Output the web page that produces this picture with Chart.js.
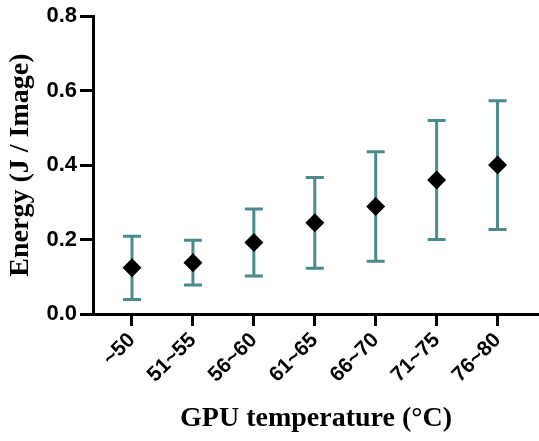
<!DOCTYPE html>
<html>
<head>
<meta charset="utf-8">
<script src="https://cdn.jsdelivr.net/npm/chart.js@4"></script>
<style>
  body { margin: 0; background: #fff; }
</style>
</head>
<body>
<canvas id="energyChart" width="539" height="441"></canvas>
<script>
// temperature bins
const tempLabels = ['~50', '51~55', '56~60', '61~65', '66~70', '71~75', '76~80'];
// mean energy per image (J)
const energyMean = [0.124, 0.138, 0.192, 0.245, 0.289, 0.360, 0.400];
// error bar (+/-)
const energyErr = [0.085, 0.060, 0.090, 0.122, 0.147, 0.160, 0.173];
const yTicks = [0, 0.2, 0.4, 0.6, 0.8];

const teal = '#4a8a8a';

// draws the error bars under the points
const errorBars = {
  id: 'errorBars',
  beforeDatasetsDraw(chart) {
    const ctx = chart.ctx;
    const xs = chart.scales.x, ys = chart.scales.y;
    ctx.save();
    ctx.strokeStyle = teal;
    ctx.lineWidth = 3;
    energyMean.forEach((m, i) => {
      const x = xs.getPixelForValue(i);
      const top = ys.getPixelForValue(m + energyErr[i]);
      const bot = ys.getPixelForValue(m - energyErr[i]);
      ctx.beginPath();
      ctx.moveTo(x, top); ctx.lineTo(x, bot);
      ctx.moveTo(x - 9, top); ctx.lineTo(x + 9, top);
      ctx.moveTo(x - 9, bot); ctx.lineTo(x + 9, bot);
      ctx.stroke();
    });
    ctx.restore();
  }
};

new Chart(document.getElementById('energyChart'), {
  type: 'scatter',
  data: {
    datasets: [{
      data: energyMean.map((v, i) => ({x: i, y: v})),
      pointStyle: 'rectRot',
      pointRadius: 9.5,
      pointHoverRadius: 9.5,
      backgroundColor: '#000',
      borderColor: '#000',
      borderWidth: 0
    }]
  },
  options: {
    responsive: false,
    animation: false,
    layout: { autoPadding: false, padding: { top: 15, right: 0, left: 0, bottom: 0 } },
    plugins: { legend: { display: false }, tooltip: { enabled: false } },
    scales: {
      x: {
        type: 'linear',
        min: -0.64,
        max: 6.68,
        afterBuildTicks: s => { s.ticks = tempLabels.map((_, i) => ({value: i})); },
        afterFit: s => { s.height = 127; },
        border: { display: true, color: '#000', width: 3 },
        grid: { drawOnChartArea: false, drawTicks: true, tickLength: 12, tickWidth: 3, tickColor: '#000' },
        ticks: {
          autoSkip: false,
          minRotation: 45,
          maxRotation: 45,
          color: '#000',
          padding: 2,
          font: { family: 'Liberation Sans', size: 21, weight: 'bold' },
          callback: v => tempLabels[v]
        },
        title: {
          display: true,
          text: 'GPU temperature (°C)',
          color: '#000',
          padding: { top: 0, bottom: 5 },
          font: { family: 'Liberation Serif', size: 28, weight: 'bold' }
        }
      },
      y: {
        min: 0,
        max: 0.8,
        afterBuildTicks: s => { s.ticks = yTicks.map(v => ({value: v})); },
        afterFit: s => { s.width = 93; },
        border: { display: true, color: '#000', width: 3 },
        grid: { drawOnChartArea: false, drawTicks: true, tickLength: 13, tickWidth: 3, tickColor: '#000' },
        ticks: {
          color: '#000',
          padding: 3,
          font: { family: 'Liberation Sans', size: 22, weight: 'bold' },
          callback: v => v.toFixed(1)
        },
        title: {
          display: true,
          text: 'Energy (J / Image)',
          color: '#000',
          padding: { top: 4, bottom: 0 },
          font: { family: 'Liberation Serif', size: 28, weight: 'bold' }
        }
      }
    }
  },
  plugins: [errorBars]
});
</script>
</body>
</html>
